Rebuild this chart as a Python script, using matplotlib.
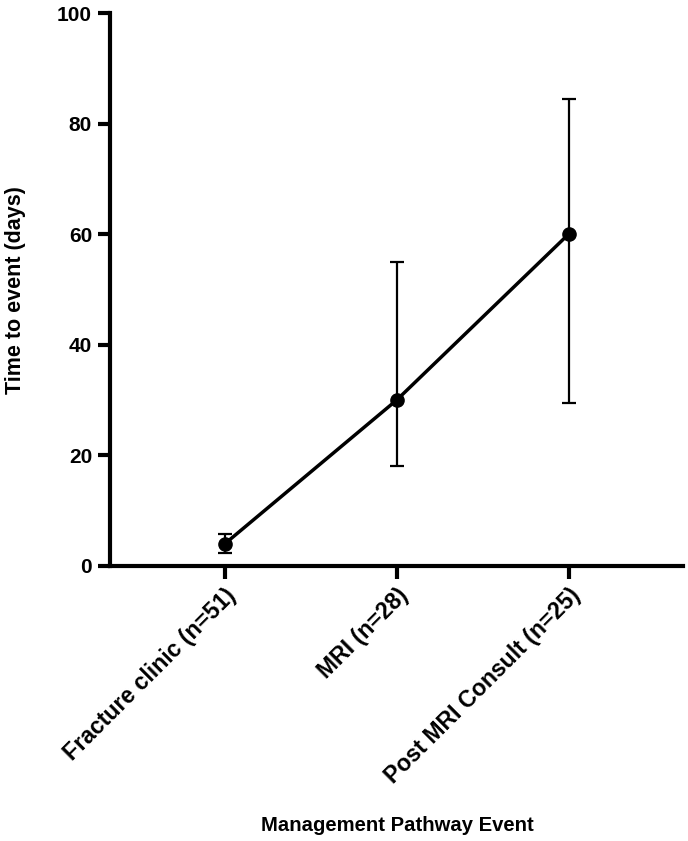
import matplotlib.pyplot as plt

plt.rcParams["font.family"] = ["Liberation Sans", "DejaVu Sans"]
plt.rcParams["font.weight"] = "bold"

categories = ["Fracture clinic (n=51)", "MRI (n=28)", "Post MRI Consult (n=25)"]
median_days = [4, 30, 60]
lower = [2.3, 18, 29.5]
upper = [5.8, 55, 84.5]

x = list(range(1, len(categories) + 1))
err_low = [m - lo for m, lo in zip(median_days, lower)]
err_high = [hi - m for m, hi in zip(median_days, upper)]

fig = plt.figure(figsize=(6.88, 8.41), dpi=100)
ax = fig.add_axes([0.16, 0.327, 0.833, 0.6575])

ax.errorbar(x, median_days, yerr=[err_low, err_high], fmt="none",
            ecolor="black", elinewidth=1.6, capsize=4.8, capthick=1.6, zorder=2)
ax.plot(x, median_days, color="black", lw=2.5, marker="o", ms=9.5, zorder=3)

ax.set_xlim(0.333, 3.667)
ax.set_ylim(0, 100)
ax.set_yticks([0, 20, 40, 60, 80, 100])
ax.set_xticks(x)
ax.set_xticklabels(categories, rotation=45, ha="right", rotation_mode="anchor",
                   fontsize=16.7)

for side in ["top", "right"]:
    ax.spines[side].set_visible(False)
for side in ["left", "bottom"]:
    ax.spines[side].set_linewidth(3)
ax.tick_params(width=3, length=9, pad=4)
ax.tick_params(axis="y", labelsize=15, pad=4)

# axis titles placed in figure coords to match the reference layout
fig.text(0.022, 0.655, "Time to event (days)", rotation=90, ha="center", va="center",
         fontsize=15.5, fontweight="bold")
fig.text(0.578, 0.018, "Management Pathway Event", ha="center", va="center",
         fontsize=14.6, fontweight="bold")

fig.savefig("out.png", dpi=100)
